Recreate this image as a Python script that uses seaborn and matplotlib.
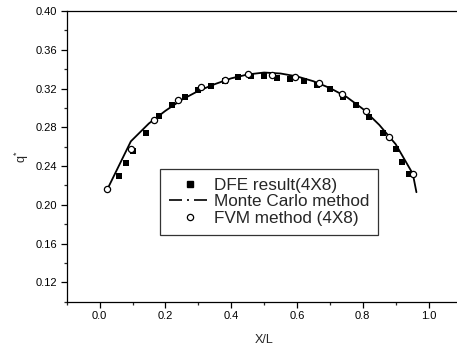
import numpy as np
import pandas as pd
import matplotlib
matplotlib.use("Agg")
import matplotlib.pyplot as plt
from matplotlib.lines import Line2D
import seaborn as sns

# DFE result (4X8) - filled squares
dfe_x = [0.06, 0.08, 0.10, 0.14, 0.18, 0.22, 0.26, 0.30, 0.34, 0.38, 0.42, 0.46, 0.50,
         0.54, 0.58, 0.62, 0.66, 0.70, 0.74, 0.78, 0.82, 0.86, 0.90, 0.92, 0.94]
dfe_y = [0.2296, 0.2431, 0.2555, 0.2736, 0.2917, 0.3033, 0.3112, 0.3186, 0.3229, 0.3275,
         0.3317, 0.3330, 0.3325, 0.3311, 0.3300, 0.3273, 0.3235, 0.3190, 0.3113, 0.3035,
         0.2907, 0.2741, 0.2580, 0.2441, 0.2314]

# Monte Carlo method - line
mc_x = [0.025, 0.095, 0.15, 0.20, 0.25, 0.30, 0.35, 0.40, 0.45, 0.50, 0.55, 0.60,
        0.65, 0.70, 0.75, 0.80, 0.85, 0.90, 0.952, 0.963]
mc_y = [0.217, 0.2655, 0.284, 0.297, 0.3085, 0.3175, 0.3245, 0.3305, 0.3345, 0.3365,
        0.3355, 0.3325, 0.3275, 0.3205, 0.3115, 0.299, 0.2825, 0.2625, 0.232, 0.213]

# FVM method (4X8) - open circles
fvm_x = [0.0238, 0.0952, 0.1667, 0.2381, 0.3095, 0.3810, 0.4524, 0.5238, 0.5952,
         0.6667, 0.7381, 0.8095, 0.8810, 0.9524]
fvm_y = [0.2166, 0.2580, 0.2880, 0.3080, 0.3217, 0.3286, 0.3345, 0.3341, 0.3324,
         0.3252, 0.3139, 0.2969, 0.2704, 0.2321]

xticks = [0.0, 0.2, 0.4, 0.6, 0.8, 1.0]
yticks = [0.12, 0.16, 0.20, 0.24, 0.28, 0.32, 0.36, 0.40]

sns.set_style("ticks")
plt.rcParams['font.family'] = ['Liberation Sans', 'DejaVu Sans']
plt.rcParams['mathtext.fontset'] = 'custom'
plt.rcParams['mathtext.rm'] = 'Liberation Sans'

fig = plt.figure(figsize=(4.57, 3.47), dpi=100)
W, H = 457, 347
left_px, right_px, top_px, bot_px = 66.7, 66.7 + 1.2 * 329, 11, 301.7
ax = fig.add_axes([left_px / W, (H - bot_px) / H, (right_px - left_px) / W, (bot_px - top_px) / H])

df_dfe = pd.DataFrame({"x": dfe_x, "y": dfe_y})
df_mc = pd.DataFrame({"x": mc_x, "y": mc_y})
df_fvm = pd.DataFrame({"x": fvm_x, "y": fvm_y})

sns.lineplot(data=df_mc, x="x", y="y", ax=ax, color="black", linewidth=1.3,
             sort=False, estimator=None, zorder=2)
sns.scatterplot(data=df_dfe, x="x", y="y", ax=ax, marker="s", s=20, color="black",
                edgecolor="black", linewidth=0, zorder=3)
sns.scatterplot(data=df_fvm, x="x", y="y", ax=ax, marker="o", s=20, facecolor="white",
                edgecolor="black", linewidth=0.9, zorder=4)

ax.set_xlim(-0.1, 1.1)
ax.set_ylim(0.10, 0.40)
ax.set_xticks(xticks)
ax.set_xticklabels([f"{v:.1f}" for v in xticks])
ax.set_xticks(np.arange(-0.1, 1.15, 0.2), minor=True)
ax.set_yticks(yticks)
ax.set_yticklabels([f"{v:.2f}" for v in yticks])
ax.set_yticks([0.10, 0.14, 0.18, 0.22, 0.26, 0.30, 0.34, 0.38], minor=True)

ax.tick_params(which="major", direction="out", length=4.5, width=0.9, labelsize=8,
               colors="black", pad=2.5)
ax.tick_params(which="minor", direction="out", length=2.5, width=0.9)
for s in ["left", "bottom", "top", "right"]:
    ax.spines[s].set_color("black")
    ax.spines[s].set_linewidth(0.9)
ax.spines["right"].set_visible(False)

ax.set_xlabel("X/L", fontsize=9, labelpad=9)
ax.set_ylabel(r"q$^{*}$", fontsize=9, labelpad=3)

handles = [
    Line2D([], [], linestyle="none", marker="s", markersize=5, color="black"),
    Line2D([], [], linestyle=(0, (7.8, 3, 1.2, 3)), color="black", linewidth=1.2),
    Line2D([], [], linestyle="none", marker="o", markersize=4.5, markerfacecolor="white",
           markeredgecolor="black", markeredgewidth=0.9),
]
labels = ["DFE result(4X8)", "Monte Carlo method", "FVM method (4X8)"]
ax_w = right_px - left_px
ax_h = bot_px - top_px
leg = ax.legend(handles, labels, loc="upper left",
                bbox_to_anchor=((160 - left_px) / ax_w, (bot_px - 169) / ax_h),
                borderaxespad=0, fontsize=12.3, frameon=True, fancybox=False,
                edgecolor="#333333", framealpha=1, handlelength=2.5,
                handletextpad=0.15, labelspacing=0.1, borderpad=0.5)
leg.get_frame().set_linewidth(0.9)

fig.savefig("out.png", dpi=100)
